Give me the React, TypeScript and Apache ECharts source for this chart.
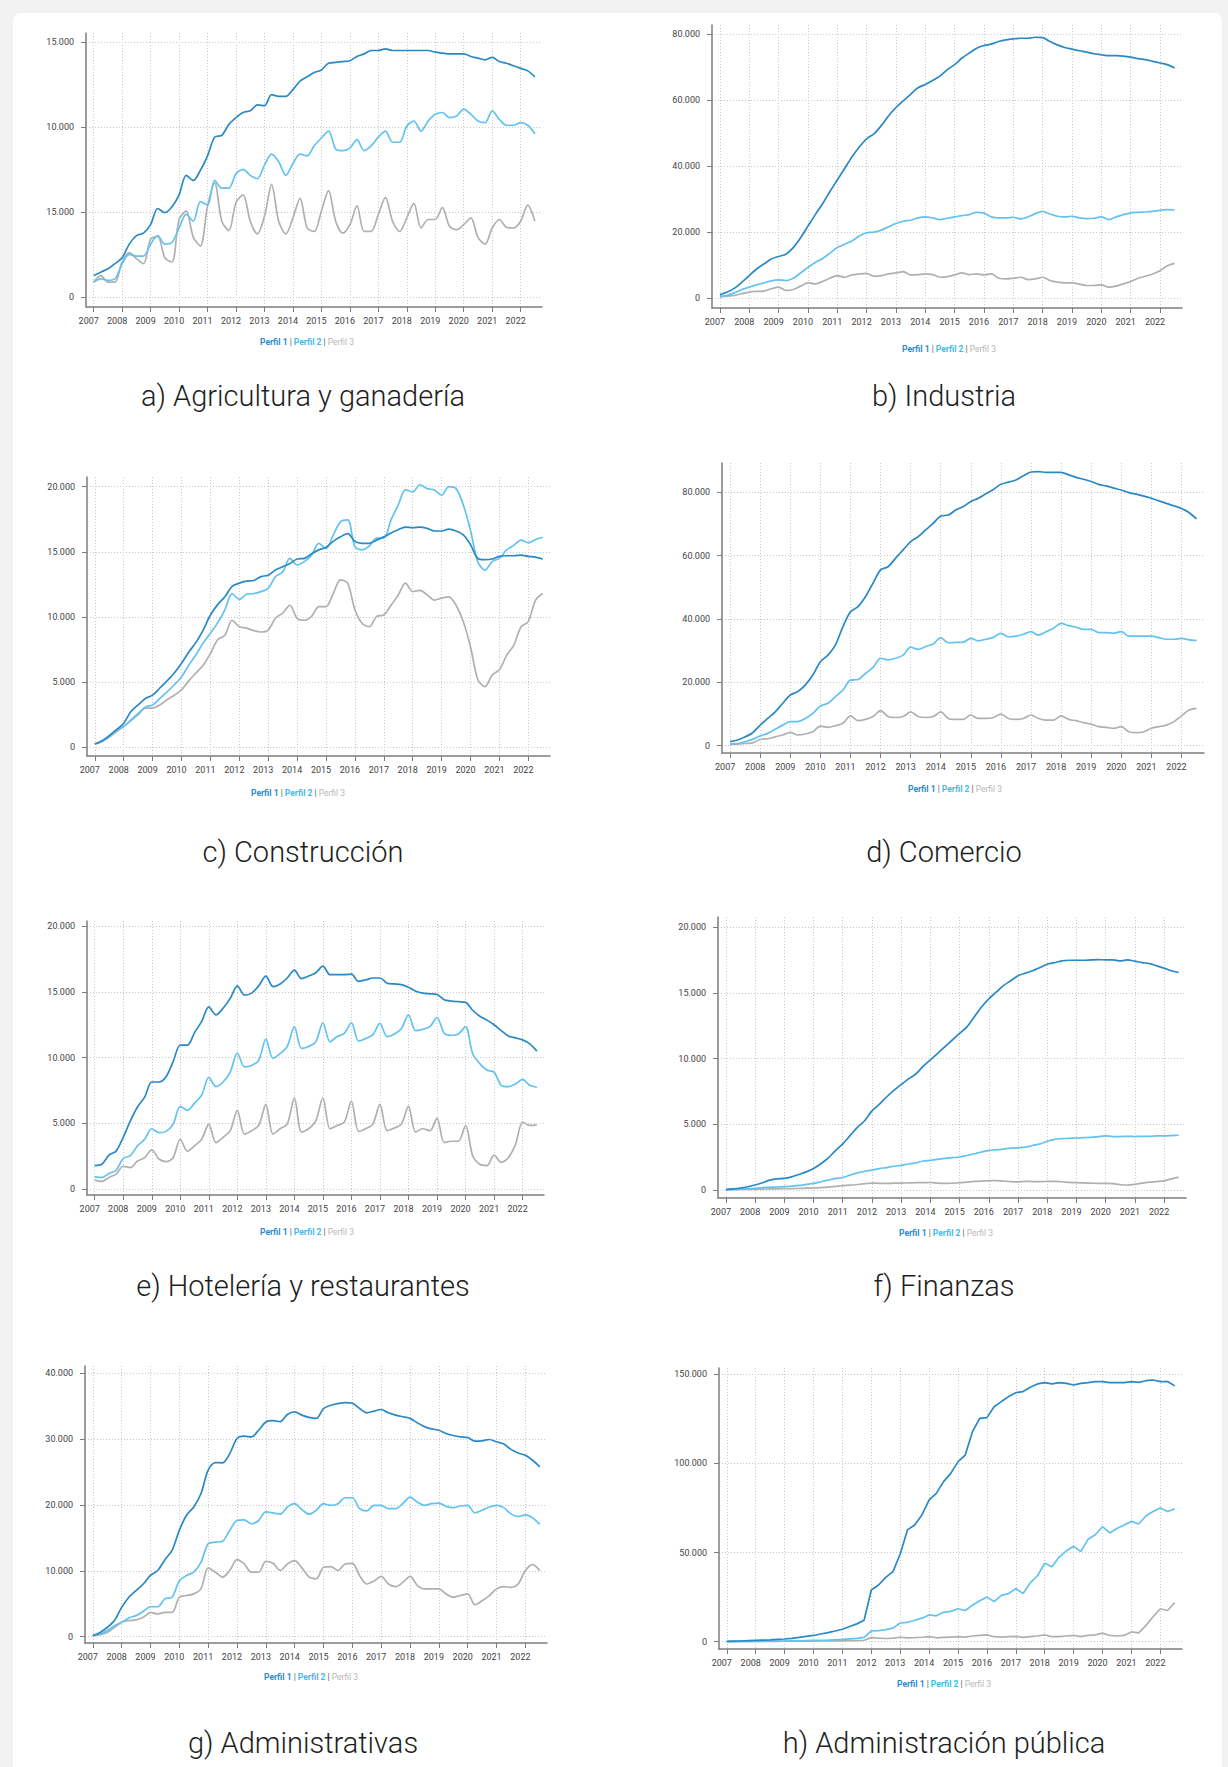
import React, { useEffect, useRef } from "react";
import * as echarts from "echarts";

// ---------- DATA ----------
const QUARTERS = [
  2007, 2007.25, 2007.5, 2007.75, 2008, 2008.25, 2008.5, 2008.75, 2009, 2009.25, 2009.5, 2009.75,
  2010, 2010.25, 2010.5, 2010.75, 2011, 2011.25, 2011.5, 2011.75, 2012, 2012.25, 2012.5, 2012.75,
  2013, 2013.25, 2013.5, 2013.75, 2014, 2014.25, 2014.5, 2014.75, 2015, 2015.25, 2015.5, 2015.75,
  2016, 2016.25, 2016.5, 2016.75, 2017, 2017.25, 2017.5, 2017.75, 2018, 2018.25, 2018.5, 2018.75,
  2019, 2019.25, 2019.5, 2019.75, 2020, 2020.25, 2020.5, 2020.75, 2021, 2021.25, 2021.5, 2021.75,
  2022, 2022.25, 2022.5,
];
const YEARS = [2007, 2008, 2009, 2010, 2011, 2012, 2013, 2014, 2015, 2016, 2017, 2018, 2019, 2020, 2021, 2022];
const SERIES_NAMES = ["Perfil 1", "Perfil 2", "Perfil 3"];

// a) Agricultura y ganadería
const AGRI_P1 = [1250,1450,1650,1950, 2300,3100,3600,3750, 4250,5200,4950,5300, 6000,7150,6850,7450, 8300,9400,9500,10150, 10550,10850,10950,11300, 11250,11900,11800,11800, 12200,12700,12950,13200, 13350,13750,13800,13850, 13900,14150,14300,14500, 14500,14600,14500,14500, 14500,14500,14500,14500, 14400,14350,14300,14300, 14300,14150,14050,13950, 14100,13850,13750,13600, 13450,13300,12950];
const AGRI_P2 = [870,1060,970,1060, 1950,2500,2400,2400, 3100,3600,3100,3200, 4050,4850,4450,5600, 5400,6850,6400,6400, 7250,7500,7150,6950, 7750,8400,7950,7150, 7850,8400,8300,8900, 9350,9750,8700,8600, 8750,9250,8600,8900, 9400,9750,9100,9100, 10050,10350,9750,10350, 10750,10850,10550,10650, 11050,10750,10350,10250, 10950,10450,10100,10100, 10250,10100,9600];
const AGRI_P3 = [870,1250,870,870, 2050,2600,2250,1950, 3400,3550,2300,2050, 4550,5050,3500,3000, 5350,6700,4450,3900, 5550,6000,4450,3700, 4750,6600,4450,3700, 4650,5800,4050,3850, 5050,6250,4450,3750, 4250,5350,3850,3850, 4850,5850,4450,3850, 4650,5500,4050,4550, 4550,5250,4150,3950, 4250,4650,3500,3100, 4050,4550,4100,4050, 4450,5400,4450];
const AGRI_Y_TICKS = [0, 5000, 10000, 15000];
const AGRI_Y_LABELS = ["0", "15.000", "10.000", "15.000"];

// b) Industria
const IND_P1 = [1000,1800,3000,4800, 6800,8800,10300,11800, 12600,13300,15300,18300, 21800,25300,28600,32300, 35800,39300,42800,45800, 48300,49800,52300,55300, 57800,59800,61800,63800, 64800,66000,67300,69300, 70800,72800,74300,75800, 76600,77000,77800,78300, 78600,78800,78800,79100, 79000,77800,76800,76000, 75500,75000,74600,74100, 73800,73500,73500,73400, 73100,72600,72300,71800, 71300,70800,69800];
const IND_P2 = [500,800,1600,2600, 3300,4000,4600,5200, 5500,5300,6000,7600, 9300,10800,12000,13600, 15300,16300,17300,18800, 19800,20000,20600,21600, 22600,23300,23600,24300, 24600,24300,23800,24200, 24600,25000,25300,26000, 25800,24600,24300,24300, 24500,24000,24600,25600, 26300,25500,24800,24600, 24800,24300,24100,24200, 24600,23800,24600,25300, 25800,26000,26100,26300, 26600,26800,26700];
const IND_P3 = [300,600,800,1300, 1800,2000,2100,2800, 3300,2300,2600,3600, 4600,4300,5000,6000, 6800,6300,7000,7300, 7500,6600,6800,7300, 7600,8000,7000,7100, 7300,7100,6300,6500, 7000,7600,7100,7300, 7000,7300,6000,5800, 6000,6300,5600,5800, 6300,5300,4800,4600, 4600,4200,3800,3800, 4000,3300,3600,4300, 5000,6000,6600,7300, 8300,9800,10500];
const IND_Y_TICKS = [0, 20000, 40000, 60000, 80000];

// c) Construcción
const CONS_P1 = [250,500,900,1350, 1850,2750,3250,3750, 4000,4550,5100,5700, 6450,7300,8050,9000, 10150,10950,11550,12350, 12600,12750,12800,13100, 13200,13600,13850,14100, 14450,14500,14850,15150, 15350,15800,16150,16400, 15800,15650,15650,15900, 16150,16450,16700,16900, 16850,16900,16800,16600, 16600,16750,16600,16300, 15550,14500,14400,14450, 14650,14700,14700,14750, 14650,14600,14450];
const CONS_P2 = [250,450,800,1300, 1600,2100,2600,3100, 3250,3750,4250,4800, 5400,6300,7100,8000, 8750,9550,10550,11800, 11350,11750,11800,11950, 12200,13100,13450,14500, 14000,14250,14750,15650, 15250,16300,17300,17450, 15400,15150,15450,16050, 16050,17450,18600,19750, 19600,20150,19850,19750, 19350,20000,19850,18600, 16650,14250,13600,14250, 14500,15150,15500,15900, 15700,15950,16100];
const CONS_P3 = [250,450,800,1200, 1600,2050,2500,3000, 3000,3250,3650,4000, 4400,5100,5700,6300, 7200,8250,8600,9750, 9250,9150,8950,8850, 9000,9900,10300,10900, 9900,9750,10050,10800, 10800,11800,12850,12600, 10550,9500,9250,10050, 10150,10900,11700,12600, 11950,12050,11700,11300, 11450,11550,10900,9650, 7700,5200,4650,5550, 5950,7050,7850,9250, 9650,11300,11800];
const CONS_Y_TICKS = [0, 5000, 10000, 15000, 20000];

// d) Comercio
const COM_P1 = [1300,1800,2800,4100, 6500,8600,10700,13400, 16000,17100,19200,22300, 26500,28600,31800,37600, 42300,43900,47100,51300, 55500,56500,59200,61800, 64400,66000,68100,70200, 72500,72800,74400,75500, 77100,78100,79500,80900, 82500,83200,83900,85200, 86400,86500,86300,86300, 86300,85500,84700,84100, 83400,82500,82000,81300, 80700,79900,79400,78800, 78100,77300,76500,75700, 74900,73600,71600];
const COM_P2 = [500,700,1300,2000, 3100,3900,5200,6500, 7600,7600,8600,10200, 12500,13400,15500,17600, 20700,20900,22800,24700, 27600,27100,27600,28600, 31100,30400,31300,32100, 34100,32500,32600,32700, 33900,33100,33600,34200, 35500,34400,34600,35200, 36000,34900,36000,37100, 38600,37900,37400,36700, 36700,35700,35700,35500, 36000,34600,34600,34600, 34600,34100,33600,33600, 33900,33400,33200];
const COM_P3 = [500,500,700,900, 2000,2200,2800,3400, 4200,3400,3700,4400, 6200,5800,6300,7100, 9400,7900,8300,9200, 11100,9200,8900,9200, 10700,9200,8900,9200, 10700,8600,8300,8300, 9700,8600,8600,8900, 10000,8600,8300,8600, 9700,8600,8100,8100, 9400,8300,7900,7300, 6800,6000,5800,5500, 6000,4400,4100,4400, 5500,6000,6500,7600, 9400,11300,11800];
const COM_Y_TICKS = [0, 20000, 40000, 60000, 80000];

// e) Hotelería y restaurantes
const HOT_P1 = [1800,1900,2600,2900, 3950,5200,6250,7000, 8150,8150,8550,9700, 10950,10950,11900,12750, 13850,13250,13750,14500, 15450,14750,14900,15450, 16200,15400,15600,16050, 16650,16000,16200,16450, 16950,16300,16300,16300, 16350,15800,15900,16050, 16050,15650,15600,15550, 15350,15050,14900,14850, 14800,14400,14300,14250, 14200,13600,13150,12850, 12500,12050,11650,11500, 11350,11050,10500];
const HOT_P2 = [950,900,1200,1450, 2350,2550,3300,3800, 4600,4300,4400,4950, 6300,6000,6550,7150, 8500,7800,8150,8900, 10350,9300,9400,9800, 11400,9950,10300,10850, 12350,10700,10850,11200, 12650,11200,11600,11850, 12650,11250,11450,11750, 12600,11600,11800,12200, 13250,12050,12150,12350, 13050,11850,11700,11800, 12350,10300,9550,9050, 8900,7900,7800,8000, 8350,7900,7750];
const HOT_P3 = [700,600,900,1150, 1750,1650,2150,2400, 3000,2300,2100,2400, 3800,2900,3300,3800, 4950,3550,3950,4450, 6000,4200,4450,4850, 6450,4200,4600,4950, 6950,4350,4600,5200, 6950,4600,4850,5100, 6700,4400,4600,4950, 6450,4450,4650,4950, 6300,4350,4600,4450, 5400,3550,3650,3650, 4850,2550,1900,1800, 2600,2050,2400,3400, 5100,4850,4900];
const HOT_Y_TICKS = [0, 5000, 10000, 15000, 20000];

// f) Finanzas
const FIN_P1 = [30,80,150,250, 380,550,750,850, 880,1000,1180,1380, 1630,2000,2430,3000, 3510,4140,4770,5270, 6020,6520,7080,7580, 8030,8460,8830,9410, 9910,10410,10920,11420, 11920,12420,13170,13930, 14550,15060,15560,15930, 16310,16510,16690,16940, 17190,17310,17440,17490, 17490,17490,17520,17540, 17520,17520,17440,17520, 17420,17310,17240,17060, 16890,16690,16560];
const FIN_P2 = [30,50,80,100, 130,180,200,230, 250,300,350,430, 500,630,750,880, 950,1130,1300,1430, 1510,1630,1710,1810, 1880,1980,2060,2210, 2260,2330,2410,2460, 2510,2630,2760,2890, 3010,3060,3110,3190, 3210,3260,3390,3510, 3710,3860,3910,3940, 3960,3990,4010,4070, 4120,4070,4070,4090, 4070,4090,4090,4120, 4120,4140,4170];
const FIN_P3 = [20,30,40,50, 60,70,80,90, 100,110,120,140, 160,180,220,280, 340,370,420,480, 530,510,500,520, 530,540,560,560, 570,520,500,520, 550,600,650,680, 700,720,680,640, 620,660,640,640, 650,660,630,580, 560,540,520,500, 510,480,400,380, 430,530,600,640, 700,850,980];
const FIN_Y_TICKS = [0, 5000, 10000, 15000, 20000];

// g) Administrativas
const ADM_P1 = [150,650,1400,2450, 4450,6000,7000,8000, 9300,10050,11700,13100, 16150,18450,19700,21700, 25300,26450,26400,27800, 30100,30450,30350,31350, 32600,32800,32650,33750, 34150,33650,33300,33150, 34650,35150,35400,35550, 35450,34650,34000,34250, 34500,34000,33650,33400, 33150,32500,31900,31550, 31350,30850,30550,30350, 30250,29700,29750,29950, 29600,29250,28450,27900, 27550,26800,25800];
const ADM_P2 = [150,400,900,1650, 2200,2850,3200,3850, 4550,4550,5750,6000, 8450,9300,9800,11300, 14100,14350,14500,16150, 17650,17750,17150,17650, 18950,18800,18600,19700, 20200,19300,18600,19200, 20200,19950,20200,21100, 21100,19450,19100,19950, 19950,19450,19450,20200, 21200,20450,19950,20200, 20300,19800,19600,19850, 19950,18800,19200,19700, 19950,19600,18650,18250, 18500,18050,17050];
const ADM_P3 = [150,300,650,1400, 2200,2450,2550,2950, 3700,3450,3700,3700, 6000,6250,6500,7250, 10450,9800,9050,10050, 11700,11050,9800,9800, 11450,11150,10050,11050, 11550,10450,9050,8800, 10550,10650,10050,11050, 11150,9300,8000,8450, 9150,8000,7600,8250, 9150,7800,7250,7250, 7250,6500,6000,6250, 6500,4850,5450,6250, 7250,7600,7500,8000, 10050,10950,10050];
const ADM_Y_TICKS = [0, 10000, 20000, 30000, 40000];

// h) Administración pública
const PUB_P1 = [200,300,400,550, 700,850,1000,1250, 1500,1900,2400,3000, 3500,4300,5100,6000, 7000,8500,10000,12000, 29000,31800,36100,39300, 49200,62700,65500,71100, 79500,83200,89800,94400, 101000,104700,117800,125300, 125700,131800,134700,137500, 139700,140300,142700,144600, 145300,144600,145300,144900, 144000,144900,145300,145900, 145900,145300,145300,145300, 145900,145500,146400,146800, 145900,145900,143500];
const PUB_P2 = [100,100,150,150, 200,250,300,350, 400,450,500,600, 700,800,900,1100, 1300,1600,1900,2400, 6000,6200,6800,7600, 10500,10800,12000,13200, 15000,14500,16500,17000, 18500,17500,20500,23000, 25000,22500,26000,27000, 29800,27000,33000,37000, 44000,42000,47500,51000, 53500,50500,57500,60000, 64500,61000,63500,65500, 67500,66000,70500,73000, 75000,73000,74500];
const PUB_P3 = [0,50,100,100, 150,150,200,200, 250,250,300,300, 350,400,400,450, 500,550,650,800, 2300,2000,1800,2000, 2500,2200,2300,2500, 2800,2200,2400,2600, 2800,2600,3200,3500, 3800,2800,2600,2800, 3000,2400,2800,3200, 3800,2800,2900,3200, 3500,2800,3500,3800, 4800,3500,3200,3500, 5500,5000,9000,14000, 18500,17500,22000];
const PUB_Y_TICKS = [0, 50000, 100000, 150000];

const TITLES = [
  "a) Agricultura y ganadería", "b) Industria", "c) Construcción", "d) Comercio",
  "e) Hotelería y restaurantes", "f) Finanzas", "g) Administrativas", "h) Administración pública",
];

// ---------- LAYOUT / STYLE ----------
const COLORS = ["#2a89c5", "#62c3f0", "#b0b0b0"];
const LEGEND_COLORS = ["#2a8bd0", "#3dbaf0", "#b8b8b8"];

const fmtThousands = (v: number) => String(v).replace(/\B(?=(\d{3})+(?!\d))/g, ".");

const PANELS = [
  { series: [AGRI_P1, AGRI_P2, AGRI_P3], yTicks: AGRI_Y_TICKS, yLabels: AGRI_Y_LABELS, yMin: -600, yMax: 15530, grid: { left: 86, top: 33, width: 456, height: 274 }, legend: [307, 342], title: [303, 396] },
  { series: [IND_P1, IND_P2, IND_P3], yTicks: IND_Y_TICKS, yMin: -3030, yMax: 82820, grid: { left: 712, top: 25, width: 470, height: 283 }, legend: [949, 349], title: [944, 396] },
  { series: [CONS_P1, CONS_P2, CONS_P3], yTicks: CONS_Y_TICKS, yMin: -668, yMax: 20744, grid: { left: 87, top: 477, width: 463, height: 279 }, legend: [298, 793], title: [303, 852] },
  { series: [COM_P1, COM_P2, COM_P3], yTicks: COM_Y_TICKS, yMin: -2300, yMax: 89240, grid: { left: 722, top: 463, width: 482, height: 290 }, legend: [955, 789], title: [944, 852] },
  { series: [HOT_P1, HOT_P2, HOT_P3], yTicks: HOT_Y_TICKS, yMin: -433, yMax: 20380, grid: { left: 87, top: 921, width: 457, height: 274 }, legend: [307, 1232], title: [303, 1286] },
  { series: [FIN_P1, FIN_P2, FIN_P3], yTicks: FIN_Y_TICKS, yMin: -609, yMax: 20784, grid: { left: 718, top: 917, width: 468, height: 281 }, legend: [946, 1233], title: [944, 1286] },
  { series: [ADM_P1, ADM_P2, ADM_P3], yTicks: ADM_Y_TICKS, yMin: -957, yMax: 41109, grid: { left: 85, top: 1366, width: 462, height: 277 }, legend: [311, 1677], title: [303, 1743] },
  { series: [PUB_P1, PUB_P2, PUB_P3], yTicks: PUB_Y_TICKS, yMin: -4095, yMax: 153530, grid: { left: 719, top: 1368, width: 463, height: 281 }, legend: [944, 1684], title: [944, 1743] },
];

const AXIS_COLOR = "#7d7d7d";
const GRID_COLOR = "#c9c9c9";
const FONT = "Roboto";

function buildOption() {
  const grid = PANELS.map((p) => ({ ...p.grid }));
  const xAxis = PANELS.map((p, i) => ({
    type: "value",
    gridIndex: i,
    min: 2006.73,
    max: 2022.75,
    axisLine: { show: true, onZero: false, lineStyle: { color: AXIS_COLOR, width: 1.5 } },
    axisTick: { show: true, customValues: YEARS, length: 5, lineStyle: { color: AXIS_COLOR, width: 1 } },
    axisLabel: {
      customValues: YEARS,
      formatter: (v: number) => String(v),
      fontSize: 9,
      color: "#444",
      fontFamily: FONT,
      margin: 9,
      padding: [0, 10, 0, 0],
    },
    splitLine: { show: true, lineStyle: { color: GRID_COLOR, type: [1, 2], width: 1 } },
  }));
  const yAxis = PANELS.map((p, i) => ({
    type: "value",
    gridIndex: i,
    min: p.yMin,
    max: p.yMax,
    axisLine: { show: true, onZero: false, lineStyle: { color: AXIS_COLOR, width: 1.5 } },
    axisTick: { show: true, customValues: p.yTicks, length: 5, lineStyle: { color: AXIS_COLOR, width: 1 } },
    axisLabel: {
      customValues: p.yTicks,
      formatter: (v: number) => {
        const idx = p.yTicks.indexOf(v);
        if (p.yLabels && idx >= 0) return p.yLabels[idx];
        return fmtThousands(v);
      },
      fontSize: 9,
      color: "#444",
      fontFamily: FONT,
      margin: 12,
    },
    splitLine: { show: true, lineStyle: { color: GRID_COLOR, type: [1, 2], width: 1 } },
  }));
  const series: any[] = [];
  PANELS.forEach((p, i) => {
    p.series.forEach((arr, k) => {
      series.push({
        type: "line",
        name: SERIES_NAMES[k],
        xAxisIndex: i,
        yAxisIndex: i,
        data: QUARTERS.map((t, j) => [t, arr[j]]),
        showSymbol: false,
        symbol: "none",
        smooth: i === 7 ? false : 0.3,
        silent: true,
        z: 3 - k,
        lineStyle: { color: COLORS[k], width: 1.7 },
        itemStyle: { color: COLORS[k] },
      });
    });
  });
  const graphic: any[] = [];
  PANELS.forEach((p, i) => {
    graphic.push({
      type: "text",
      x: p.title[0],
      y: p.title[1],
      silent: true,
      style: {
        text: TITLES[i],
        fill: "#1e1e1e",
        fontSize: 29,
        fontWeight: 300,
        fontFamily: "'Roboto Light', Roboto",
        align: "center",
        verticalAlign: "middle",
      },
    });
    graphic.push({
      type: "text",
      x: p.legend[0],
      y: p.legend[1],
      silent: true,
      style: {
        text: `{a|${SERIES_NAMES[0]}}{s| | }{b|${SERIES_NAMES[1]}}{s| | }{c|${SERIES_NAMES[2]}}`,
        align: "center",
        verticalAlign: "middle",
        fontSize: 8.5,
        fontFamily: FONT,
        rich: {
          a: { fill: LEGEND_COLORS[0], fontWeight: "bold", fontSize: 8.5, fontFamily: FONT },
          b: { fill: LEGEND_COLORS[1], fontWeight: "bold", fontSize: 8.5, fontFamily: FONT },
          c: { fill: LEGEND_COLORS[2], fontWeight: "normal", fontSize: 8.5, fontFamily: FONT },
          s: { fill: "#555", fontSize: 8.5, fontFamily: FONT },
        },
      },
    });
  });
  return {
    animation: false,
    backgroundColor: "transparent",
    textStyle: { fontFamily: FONT },
    grid,
    xAxis,
    yAxis,
    series,
    graphic,
  };
}

export default function App() {
  const ref = useRef<HTMLDivElement>(null);
  useEffect(() => {
    if (!ref.current) return;
    const chart = echarts.init(ref.current, undefined, { renderer: "svg", width: 1228, height: 1767 });
    chart.setOption(buildOption() as any);
    return () => chart.dispose();
  }, []);
  return (
    <div style={{ position: "absolute", left: 0, top: 0, width: 1228, height: 1767, background: "#f2f2f2", overflow: "hidden" }}>
      <div style={{ position: "absolute", left: 13, top: 13, width: 1209, height: 1780, background: "#ffffff", borderRadius: 8 }} />
      <div ref={ref} style={{ position: "absolute", left: 0, top: 0, width: 1228, height: 1767 }} />
    </div>
  );
}
